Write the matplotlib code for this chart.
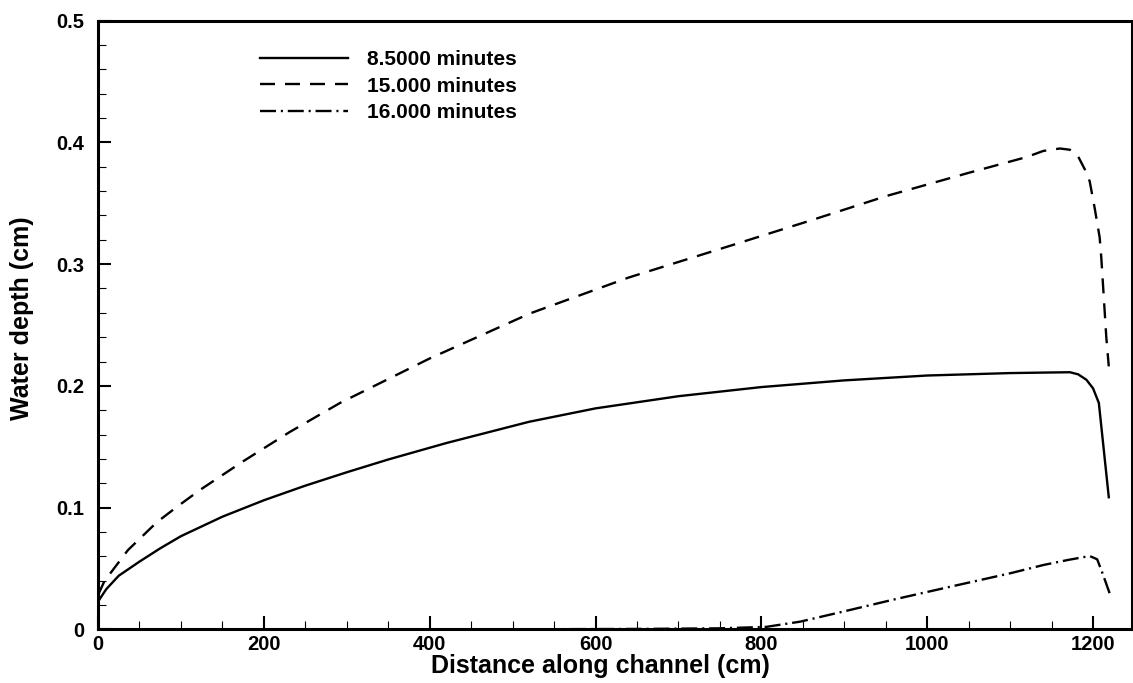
import numpy as np
import matplotlib
matplotlib.use("Agg")
import matplotlib.pyplot as plt
from matplotlib.ticker import MultipleLocator

plt.rcParams['font.family'] = ['Liberation Sans', 'DejaVu Sans']
plt.rcParams['font.weight'] = 'bold'
plt.rcParams['lines.scale_dashes'] = False

# Depth profiles along the channel at three times
x_85 = [0, 10, 25, 50, 75, 100, 150, 200, 250, 300, 350, 420, 520, 600, 700,
        800, 900, 1000, 1100, 1140, 1172, 1182, 1192, 1200, 1207, 1219]
h_85 = [0.0227, 0.033, 0.044, 0.0556, 0.0665, 0.0765, 0.0925, 0.106, 0.118,
        0.129, 0.1395, 0.153, 0.1705, 0.1815, 0.1915, 0.199, 0.2045, 0.2085,
        0.2105, 0.2109, 0.2112, 0.2095, 0.205, 0.198, 0.186, 0.1085]

x_15 = [0, 8, 16, 36, 71, 95, 123, 175, 231, 292, 400, 521, 640, 762, 860,
        951, 1050, 1120, 1140, 1160, 1172, 1182, 1190, 1196, 1202, 1208, 1210,
        1216, 1219]
h_15 = [0.028, 0.040, 0.047, 0.065, 0.088, 0.1005, 0.1145, 0.138, 0.162,
        0.186, 0.2225, 0.2595, 0.289, 0.315, 0.336, 0.356, 0.375, 0.388,
        0.393, 0.395, 0.394, 0.3885, 0.378, 0.368, 0.346, 0.322, 0.305, 0.240,
        0.216]

x_16 = [0, 300, 500, 650, 750, 806, 847, 907, 960, 1028, 1100, 1140, 1170,
        1196, 1205, 1212, 1220]
h_16 = [0.0, 0.0, 0.0, 0.0003, 0.0008, 0.002, 0.0063, 0.0159, 0.0245,
        0.035, 0.046, 0.0528, 0.057, 0.0602, 0.0575, 0.045, 0.0296]

labels = ['8.5000 minutes', '15.000 minutes', '16.000 minutes']

W, H = 1133, 683
fig = plt.figure(figsize=(W / 100, H / 100), dpi=100)
ax = fig.add_axes([98 / W, (H - 629.3) / H, (1132 - 98) / W, (629.3 - 20.7) / H])

lw = 1.7
ax.plot(x_85, h_85, color='black', lw=lw, linestyle='-', label=labels[0])
ax.plot(x_15, h_15, color='black', lw=lw, linestyle=(0, (10.8, 7.2)), label=labels[1])
ax.plot(x_16, h_16, color='black', lw=lw, linestyle=(0, (11.5, 3.5, 1.5, 3.5)),
        label=labels[2])

ax.set_xlim(0, 1247)
ax.set_ylim(0, 0.5)

ax.xaxis.set_major_locator(MultipleLocator(200))
ax.xaxis.set_minor_locator(MultipleLocator(50))
ax.yaxis.set_major_locator(MultipleLocator(0.1))
ax.yaxis.set_minor_locator(MultipleLocator(0.02))

def fmt_y(v, pos):
    return '0' if abs(v) < 1e-9 else f'{v:.1f}'

ax.yaxis.set_major_formatter(plt.FuncFormatter(fmt_y))

for s in ax.spines.values():
    s.set_linewidth(2.2)

ax.tick_params(which='both', direction='in', top=False, right=False)
ax.tick_params(which='major', length=9.6, width=1.5, labelsize=14.5)
ax.tick_params(which='minor', length=5.5, width=0.8)
ax.tick_params(axis='x', which='major', pad=4)
ax.tick_params(axis='y', which='major', pad=10)

ax.set_xlabel('Distance along channel (cm)', fontsize=18, fontweight='bold',
              va='center')
ax.xaxis.set_label_coords((600 - 98) / 1034, (629.3 - 666) / 608.6)
ax.set_ylabel('Water depth (cm)', fontsize=18, fontweight='bold', va='center')
ax.yaxis.set_label_coords((22 - 98) / 1034, (629.3 - 318) / 608.6)

leg = ax.legend(loc='upper left', bbox_to_anchor=(260 / W, 1 - 50 / H),
                bbox_transform=fig.transFigure, frameon=False, fontsize=15,
                handlelength=4.23, handletextpad=0.9, labelspacing=0.37,
                borderpad=0, borderaxespad=0)
for t in leg.get_texts():
    t.set_fontweight('bold')

fig.savefig('out.png', dpi=100)
